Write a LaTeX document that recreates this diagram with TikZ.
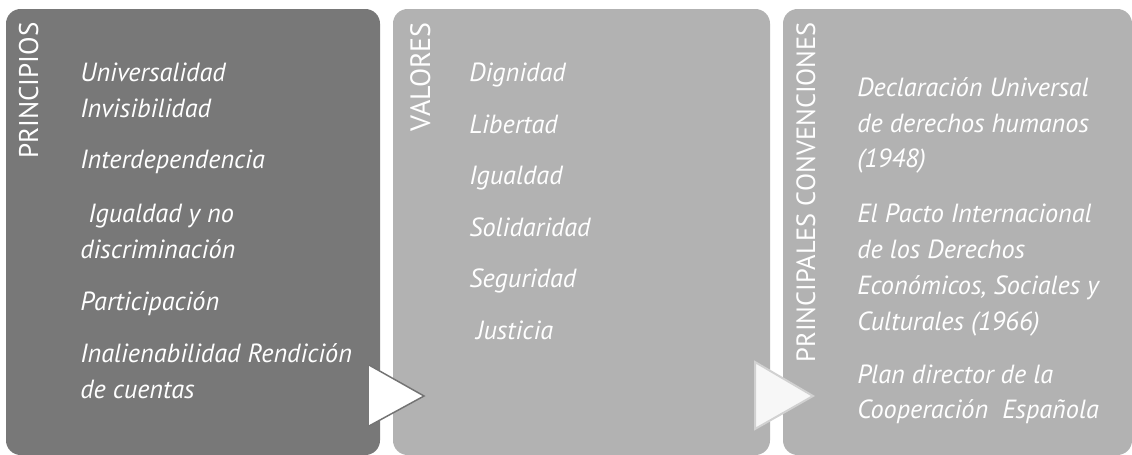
\documentclass[tikz,border=0pt]{standalone}
\usepackage{fontspec}
\setmainfont{PT Sans}
\begin{document}
\begin{tikzpicture}[x=0.75pt,y=-0.75pt,
  panel/.style={rounded corners=11pt,draw=none},
  ttl/.style={rotate=90,anchor=base east,inner sep=0pt,text=white},
  itm/.style={anchor=base west,inner sep=0pt,font=\fontsize{19.7}{19.7}\selectfont\itshape},
  itmA/.style={itm,text=white},
  itmB/.style={itm,text=white},
  arrA/.style={fill=white,draw=black!55,line width=1.1pt,line join=miter},
  arrB/.style={fill=white!97!black,draw=black!18,line width=1.5pt,line join=miter}
]
\useasboundingbox (0,0) rectangle (1132,454);
\fill[white] (0,0) rectangle (1132,454);
% panels
\fill[panel,fill=black!53] (6,9) rectangle (380,455);
\fill[panel,fill=black!30] (393,9) rectangle (770,455);
\fill[panel,fill=black!30] (783,9) rectangle (1132,455);
% arrows
\coordinate (a1t) at (369,365);
\coordinate (a1p) at (424,396);
\coordinate (a1b) at (369,426);
\fill[white] (a1t) -- (a1p) -- (a1b) -- cycle;
\draw[arrA] (a1t) -- (a1p) -- (a1b);
\coordinate (a2t) at (755,362);
\coordinate (a2p) at (813,396);
\coordinate (a2b) at (755,429);
\draw[arrB] (a2t) -- (a2p) -- (a2b) -- cycle;
% titles
\node[ttl,font=\fontsize{20.3}{20.3}\selectfont] (t1) at (38,22) {PRINCIPIOS};
\node[ttl,font=\fontsize{21}{21}\selectfont] (t2) at (430,22) {VALORES};
\node[ttl,font=\fontsize{19.8}{19.8}\selectfont] (t3) at (815,22) {PRINCIPALES CONVENCIONES};
% panel 1 items
\node[itmA] (p1) at (80,81) {Universalidad};
\node[itmA] (p2) at (80,117) {Invisibilidad};
\node[itmA] (p3) at (80,168) {Interdependencia};
\node[itmA] (p4) at (88,222) {Igualdad y no};
\node[itmA] (p5) at (80,258) {discriminación};
\node[itmA] (p6) at (80,310) {Participación};
\node[itmA] (p7) at (80,362) {Inalienabilidad Rendición};
\node[itmA] (p8) at (80,398) {de cuentas};
% panel 2 items
\node[itmB] (v1) at (469,81) {Dignidad};
\node[itmB] (v2) at (469,133) {Libertad};
\node[itmB] (v3) at (469,184) {Igualdad};
\node[itmB] (v4) at (469,236) {Solidaridad};
\node[itmB] (v5) at (469,287) {Seguridad};
\node[itmB] (v6) at (476,339) {Justicia};
% panel 3 items
\node[itmB] (c1) at (857,96) {Declaración Universal};
\node[itmB] (c2) at (857,132) {de derechos humanos};
\node[itmB] (c3) at (857,167) {(1948)};
\node[itmB] (c4) at (857,222) {El Pacto Internacional};
\node[itmB] (c5) at (857,258) {de los Derechos};
\node[itmB] (c6) at (857,294) {Económicos, Sociales y};
\node[itmB] (c7) at (857,330) {Culturales (1966)};
\node[itmB] (c8) at (857,383) {Plan director de la};
\node[itmB] (c9) at (857,418) {Cooperación\ \ Española};
\end{tikzpicture}
\end{document}
